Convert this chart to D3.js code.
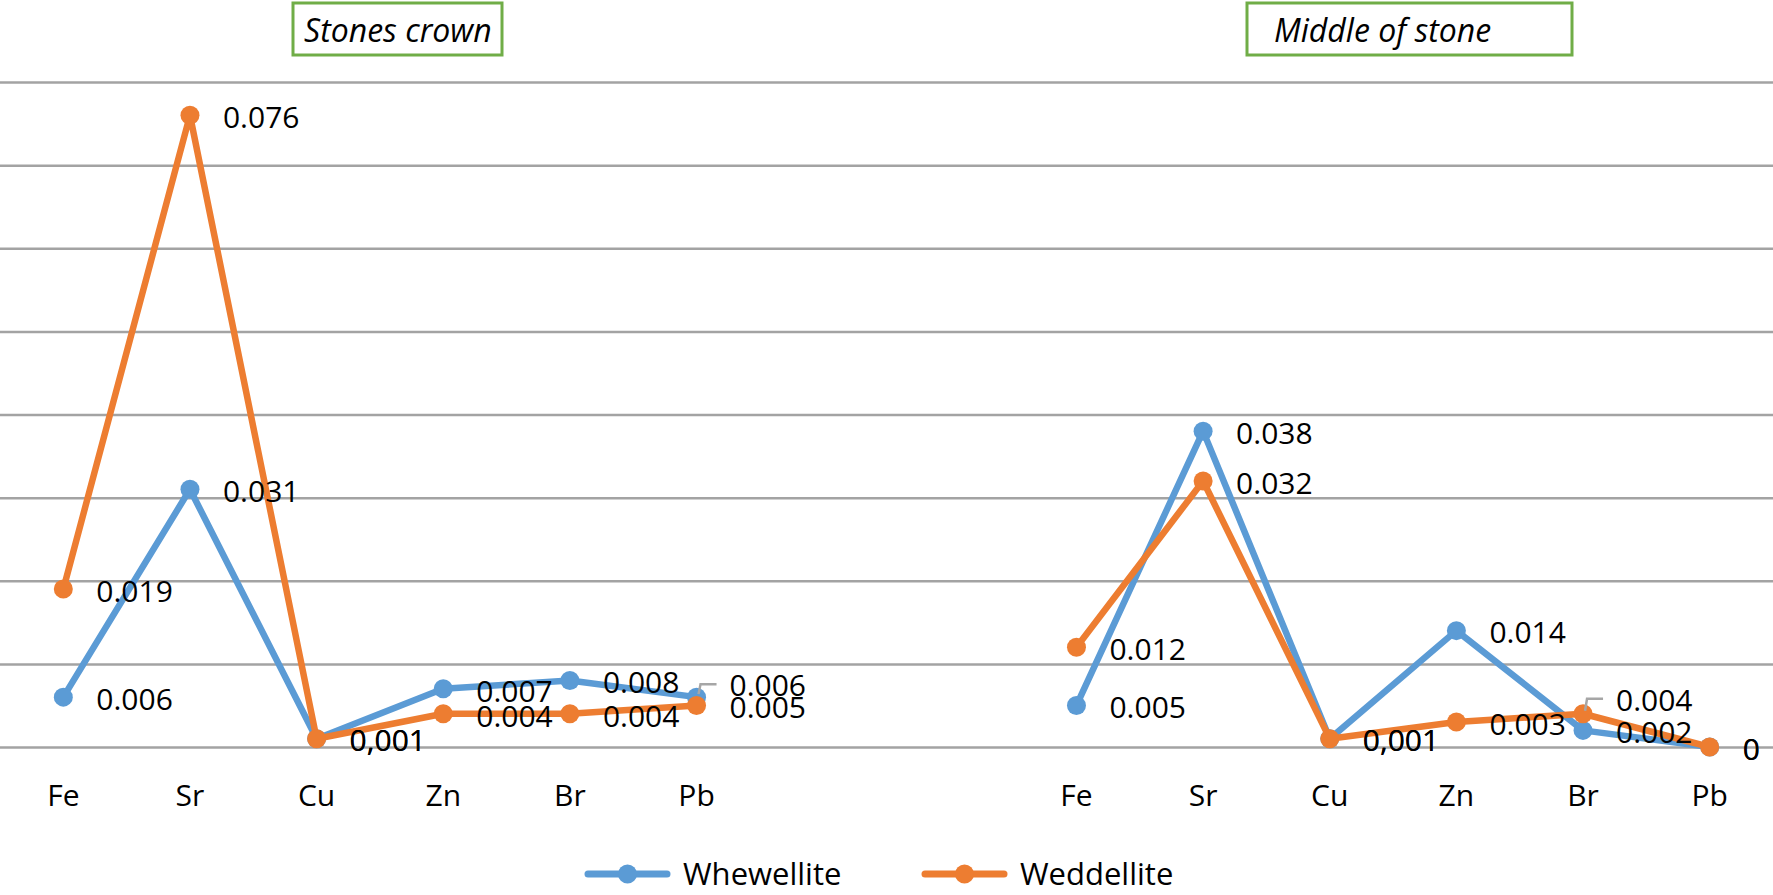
<!DOCTYPE html>
<html>
<head>
<meta charset="utf-8">
<script src="https://cdn.jsdelivr.net/npm/d3@7"></script>
<style>
  html, body { margin: 0; padding: 0; background: #fff; }
  svg text { font-family: "Open Sans", "Noto Sans", sans-serif; fill: #000; }
</style>
</head>
<body>
<div id="chart"></div>
<script>
// element names on the x axis (same for both panels)
var elements = ['Fe', 'Sr', 'Cu', 'Zn', 'Br', 'Pb'];
var seriesNames = ['Whewellite', 'Weddellite'];
var panelTitles = ['Stones crown', 'Middle of stone'];

// values
var crownWhewellite = [0.006, 0.031, 0.001, 0.007, 0.008, 0.006];
var crownWeddellite = [0.019, 0.076, 0.001, 0.004, 0.004, 0.005];
var middleWhewellite = [0.005, 0.038, 0.001, 0.014, 0.002, 0];
var middleWeddellite = [0.012, 0.032, 0.001, 0.003, 0.004, 0];

// gridline values
var yTicks = [0, 0.01, 0.02, 0.03, 0.04, 0.05, 0.06, 0.07, 0.08];

var colors = { Whewellite: '#5b9bd5', Weddellite: '#ed7d31' };

var width = 1773, height = 895;

// one long category axis: 6 crown slots, 2 empty slots, 6 middle slots
var slots = elements.map(function(e) { return 'crown-' + e; })
  .concat(['gap-1', 'gap-2'])
  .concat(elements.map(function(e) { return 'middle-' + e; }));

var x = d3.scaleBand().domain(slots).range([0, width]);
var y = d3.scaleLinear().domain([0, 0.08]).range([747, 82]);

var svg = d3.select('#chart').append('svg')
  .attr('width', width)
  .attr('height', height);

// horizontal gridlines
svg.append('g')
  .attr('class', 'grid')
  .call(d3.axisLeft(y).tickValues(yTicks).tickSize(-width).tickFormat(''))
  .call(function(g) {
    g.select('.domain').remove();
    g.selectAll('line').attr('stroke', '#a3a3a3').attr('stroke-width', 2.5);
  });

// category labels
svg.append('g')
  .attr('transform', 'translate(0,782)')
  .call(d3.axisBottom(x).tickSize(0).tickFormat(function(d) {
    return d.indexOf('gap') === 0 ? '' : d.split('-')[1];
  }))
  .call(function(g) {
    g.select('.domain').remove();
    g.selectAll('text')
      .attr('font-size', 30)
      .attr('font-family', '"Open Sans", sans-serif')
      .attr('fill', '#000')
      .attr('dy', '0.71em');
  });

// build the four series
var series = [
  { panel: 'crown', name: 'Whewellite', values: crownWhewellite },
  { panel: 'crown', name: 'Weddellite', values: crownWeddellite },
  { panel: 'middle', name: 'Whewellite', values: middleWhewellite },
  { panel: 'middle', name: 'Weddellite', values: middleWeddellite }
];
series.forEach(function(s) {
  s.points = s.values.map(function(v, i) {
    return { key: s.panel + '-' + elements[i], el: elements[i], value: v };
  });
});

var cx = function(d) { return x(d.key) + x.bandwidth() / 2; };

var line = d3.line()
  .x(cx)
  .y(function(d) { return y(d.value); });

var lines = svg.append('g');
series.forEach(function(s) {
  var g = lines.append('g');
  g.append('path')
    .datum(s.points)
    .attr('fill', 'none')
    .attr('stroke', colors[s.name])
    .attr('stroke-width', 6.5)
    .attr('stroke-linejoin', 'round')
    .attr('d', line);
  g.selectAll('circle')
    .data(s.points)
    .enter().append('circle')
    .attr('cx', cx)
    .attr('cy', function(d) { return y(d.value); })
    .attr('r', 9.5)
    .attr('fill', colors[s.name]);
});

// data labels, right of each point; two were pulled up with a leader line
var labelText = function(v) {
  if (v === 0) return '0';
  if (v === 0.001) return '0,001';
  return d3.format('.3f')(v);
};
var lifted = { 'crown-Whewellite-Pb': -14, 'middle-Weddellite-Br': -16 };

var labels = svg.append('g');
series.forEach(function(s) {
  s.points.forEach(function(d) {
    var px = cx(d), py = y(d.value);
    var shift = lifted[s.panel + '-' + s.name + '-' + d.el] || 0;
    if (shift) {
      labels.append('path')
        .attr('d', 'M' + (px + 2) + ',' + (py - 3) + 'L' + (px + 4) + ',' + (py + shift + 1) +
          'L' + (px + 20) + ',' + (py + shift + 1))
        .attr('fill', 'none')
        .attr('stroke', '#a6a6a6')
        .attr('stroke-width', 2.5);
    }
    labels.append('text')
      .attr('x', px + 33)
      .attr('y', py + 2 + shift)
      .attr('dy', '0.36em')
      .attr('font-size', 30)
      .text(labelText(d.value));
  });
});

// panel titles in green boxes
var titleBoxes = [
  { text: panelTitles[0], x: 293, w: 209, tx: 304 },
  { text: panelTitles[1], x: 1247, w: 325, tx: 1274 }
];
titleBoxes.forEach(function(t) {
  svg.append('rect')
    .attr('x', t.x).attr('y', 3)
    .attr('width', t.w).attr('height', 52)
    .attr('fill', '#fff')
    .attr('stroke', '#70ad47')
    .attr('stroke-width', 3);
  svg.append('text')
    .attr('x', t.tx).attr('y', 42)
    .attr('font-size', 32)
    .attr('font-style', 'italic')
    .text(t.text);
});

// legend
var legend = svg.append('g').attr('transform', 'translate(0,874)');
var legendX = [588, 925];
seriesNames.forEach(function(name, i) {
  var g = legend.append('g').attr('transform', 'translate(' + legendX[i] + ',0)');
  g.append('line')
    .attr('x1', 0).attr('x2', 79)
    .attr('stroke', colors[name])
    .attr('stroke-width', 7)
    .attr('stroke-linecap', 'round');
  g.append('circle')
    .attr('cx', 39.5).attr('r', 9.5)
    .attr('fill', colors[name]);
  g.append('text')
    .attr('x', 95)
    .attr('dy', '0.36em')
    .attr('font-size', 31)
    .text(name);
});
</script>
</body>
</html>
